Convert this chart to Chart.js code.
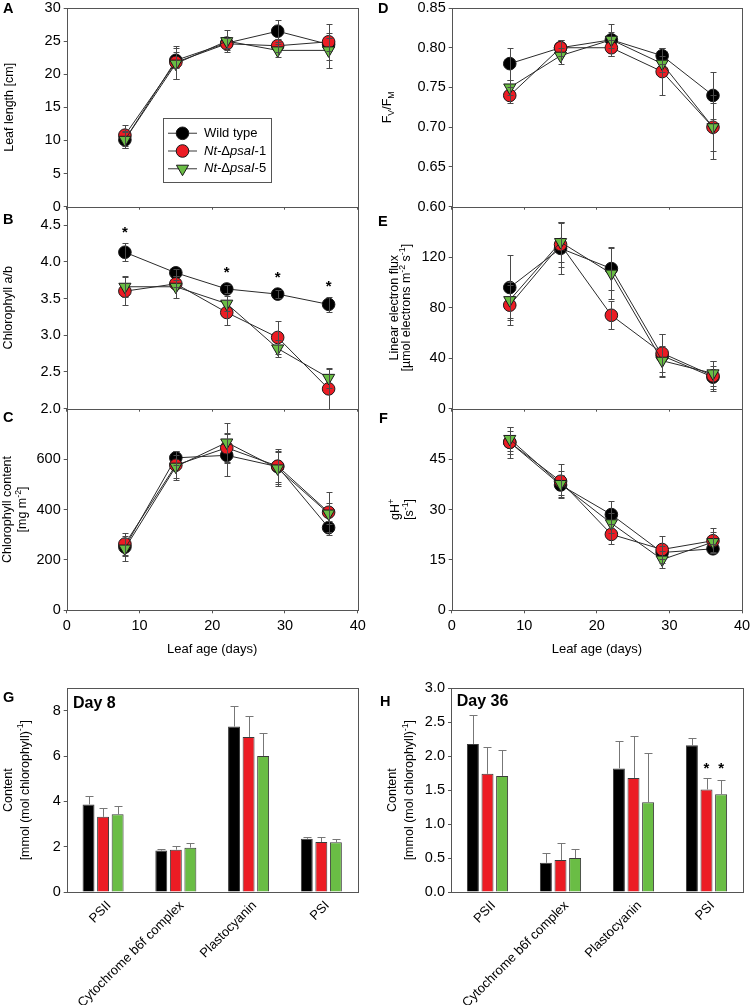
<!DOCTYPE html>
<html>
<head>
<meta charset="utf-8">
<script src="https://cdn.jsdelivr.net/npm/chart.js@4.4.1/dist/chart.umd.min.js"></script>
<style>
    html, body { margin: 0; padding: 0; background: #fff; }
    #fig { position: relative; width: 750px; height: 1005px; overflow: hidden; background: #fff; }
    #fig canvas { position: absolute; }
</style>
</head>
<body>
<div id="fig"></div>
<script>
const FONT = "'Liberation Sans', Arial, Helvetica, sans-serif";
const GRAY = "#555555";
const WT_COLOR = "#000000";
const L1_COLOR = "#ec1c24";
const L5_COLOR = "#6abd45";
const TICK_SIZE = 14.5;

// Leaf age (days)
const leafAge = [8, 15, 22, 29, 36];
const ageTicks = [0, 10, 20, 30, 40];

// A: leaf length [cm]
const lengthWT = [10.1, 22.1, 24.7, 26.5, 24.5];
const lengthWTErr = [1.2, 1.2, 0.8, 1.7, 1.0];
const lengthL1 = [10.8, 21.8, 24.6, 24.3, 24.9];
const lengthL1Err = [1.6, 2.5, 0.9, 1.0, 2.7];
const lengthL5 = [10.1, 21.6, 25.0, 23.6, 23.6];
const lengthL5Err = [1.3, 2.3, 1.7, 1.0, 2.6];
const lengthTicks = [0, 5, 10, 15, 20, 25, 30];

// B: chlorophyll a/b
const abWT = [4.13, 3.85, 3.63, 3.56, 3.42];
const abWTErr = [0.12, 0.05, 0.06, 0.05, 0.1];
const abL1 = [3.60, 3.70, 3.31, 2.97, 2.27];
const abL1Err = [0.19, 0.05, 0.17, 0.23, 0.27];
const abL5 = [3.66, 3.66, 3.43, 2.82, 2.42];
const abL5Err = [0.14, 0.15, 0.1, 0.12, 0.14];
const abStars = [4.43, null, 3.89, 3.82, 3.70];
const abTicks = [2.0, 2.5, 3.0, 3.5, 4.0, 4.5];

// C: chlorophyll content [mg m-2]
const chlWT = [251, 605, 615, 570, 328];
const chlWTErr = [35, 28, 83, 60, 28];
const chlL1 = [263, 576, 645, 572, 389];
const chlL1Err = [44, 57, 60, 70, 80];
const chlL5 = [245, 570, 666, 563, 384];
const chlL5Err = [49, 45, 79, 70, 40];
const chlTicks = [0, 200, 400, 600];

// D: Fv/Fm
const fvWT = [0.78, 0.80, 0.81, 0.79, 0.74];
const fvWTErr = [0.02, 0.01, 0.01, 0.01, 0.03];
const fvL1 = [0.74, 0.80, 0.80, 0.77, 0.70];
const fvL1Err = [0.01, 0.01, 0.01, 0.03, 0.04];
const fvL5 = [0.75, 0.79, 0.81, 0.78, 0.70];
const fvL5Err = [0.01, 0.01, 0.02, 0.01, 0.03];
const fvTicks = [0.60, 0.65, 0.70, 0.75, 0.80, 0.85];

// E: linear electron flux
const lefWT = [96, 127, 111, 42, 25];
const lefWTErr = [26, 20, 17, 17, 9];
const lefL1 = [82, 130, 74, 44, 26];
const lefL1Err = [16, 18, 11, 15, 12];
const lefL5 = [86, 132, 107, 38, 28];
const lefL5Err = [14, 16, 20, 12, 10];
const lefTicks = [0, 40, 80, 120];

// F: gH+
const ghWT = [50, 37.3, 28.5, 17.2, 18.3];
const ghWTErr = [3.5, 3, 4, 2, 1.3];
const ghL1 = [50, 38.4, 22.6, 18.1, 20.7];
const ghL1Err = [4.6, 5, 3, 4.1, 3.7];
const ghL5 = [51, 37.6, 25.9, 15.1, 20.3];
const ghL5Err = [3.5, 4, 3, 2.6, 3];
const ghTicks = [0, 15, 30, 45];

// G / H: complex content
const complexes = ["PSII", "Cytochrome b6f complex", "Plastocyanin", "PSI"];
const day8WT = [3.87, 1.83, 7.31, 2.35];
const day8WTErr = [0.35, 0.09, 0.93, 0.07];
const day8L1 = [3.32, 1.87, 6.85, 2.21];
const day8L1Err = [0.4, 0.17, 0.93, 0.2];
const day8L5 = [3.43, 1.96, 6.01, 2.2];
const day8L5Err = [0.35, 0.21, 1.0, 0.16];
const day8Ticks = [0, 2, 4, 6, 8];

const day36WT = [2.18, 0.43, 1.82, 2.16];
const day36WTErr = [0.43, 0.15, 0.40, 0.11];
const day36L1 = [1.74, 0.47, 1.68, 1.51];
const day36L1Err = [0.40, 0.25, 0.62, 0.17];
const day36L5 = [1.71, 0.50, 1.32, 1.44];
const day36L5Err = [0.38, 0.13, 0.73, 0.21];
const day36Stars = [null, null, null, 1.86];
const day36Ticks = [0, 0.5, 1.0, 1.5, 2.0, 2.5, 3.0];

Chart.defaults.font.family = FONT;
Chart.defaults.color = "#000";

const fig = document.getElementById("fig");

function addCanvas(rect) {
    const c = document.createElement("canvas");
    const w = rect.r - rect.l;
    const h = rect.b - rect.t;
    c.width = w;
    c.height = h;
    c.style.left = rect.l + "px";
    c.style.top = rect.t + "px";
    c.style.width = w + "px";
    c.style.height = h + "px";
    fig.appendChild(c);
    return c;
}

// small rich text helper (italics, sub/superscripts)
function segFont(s, size) {
    const sz = s.sub || s.sup ? size * 0.7 : size;
    return (s.it ? "italic " : "") + (s.b ? "bold " : "") + sz + "px " + FONT;
}
function richWidth(ctx, segs, size) {
    let w = 0;
    segs.forEach((s) => {
        ctx.font = segFont(s, size);
        w += ctx.measureText(s.t).width;
    });
    return w;
}
function drawRich(ctx, segs, x, y, size, center) {
    let cx = center ? x - richWidth(ctx, segs, size) / 2 : x;
    ctx.textBaseline = "middle";
    ctx.textAlign = "left";
    segs.forEach((s) => {
        ctx.font = segFont(s, size);
        const dy = s.sup ? -size * 0.38 : s.sub ? size * 0.3 : 0;
        ctx.fillText(s.t, cx, y + dy);
        cx += ctx.measureText(s.t).width;
    });
}

function drawMarker(ctx, style, color, x, y) {
    ctx.fillStyle = color;
    ctx.strokeStyle = "#1a1a1a";
    ctx.lineWidth = 1;
    ctx.beginPath();
    if (style === "circle") {
        ctx.arc(x, y, 6.3, 0, Math.PI * 2);
    } else {
        const r = 7;
        ctx.moveTo(x, y + r);
        ctx.lineTo(x - r * 0.866, y - r / 2);
        ctx.lineTo(x + r * 0.866, y - r / 2);
        ctx.closePath();
    }
    ctx.fill();
    ctx.stroke();
}

function makePlugin(cfg) {
    const dx = cfg.rect.l;
    const dy = cfg.rect.t;
    return {
        id: "panel",
        afterDatasetsDraw(chart) {
            const ctx = chart.ctx;
            const ys = chart.scales.y;
            ctx.save();
            chart.data.datasets.forEach((ds, di) => {
                if (!ds.errors) return;
                const meta = chart.getDatasetMeta(di);
                ctx.strokeStyle = cfg.errColor;
                ctx.lineWidth = 1;
                meta.data.forEach((el, i) => {
                    const e = ds.errors[i];
                    if (e == null) return;
                    const v = ds.values[i];
                    const px = Math.round(el.x) + 0.5;
                    const top = Math.round(ys.getPixelForValue(v + e)) + 0.5;
                    const bot = cfg.upOnly
                        ? ys.getPixelForValue(v)
                        : Math.round(ys.getPixelForValue(v - e)) + 0.5;
                    ctx.beginPath();
                    ctx.moveTo(px, top);
                    ctx.lineTo(px, bot);
                    ctx.moveTo(px - cfg.cap, top);
                    ctx.lineTo(px + cfg.cap, top);
                    if (!cfg.upOnly) {
                        ctx.moveTo(px - cfg.cap, bot);
                        ctx.lineTo(px + cfg.cap, bot);
                    }
                    ctx.stroke();
                });
            });
            // significance stars, glyph centred on the value
            chart.data.datasets.forEach((ds, di) => {
                if (!ds.stars) return;
                const meta = chart.getDatasetMeta(di);
                ctx.fillStyle = "#000";
                ctx.font = "bold 15px " + FONT;
                ctx.textAlign = "center";
                ctx.textBaseline = "alphabetic";
                const m = ctx.measureText("*");
                const shift = (m.actualBoundingBoxAscent - m.actualBoundingBoxDescent) / 2;
                meta.data.forEach((el, i) => {
                    const s = ds.stars[i];
                    if (s == null) return;
                    ctx.fillText("*", el.x, ys.getPixelForValue(s) + shift);
                });
            });
            ctx.restore();
        },
        afterDraw(chart) {
            const ctx = chart.ctx;
            const a = chart.chartArea;
            ctx.save();
            // frame
            ctx.strokeStyle = GRAY;
            ctx.lineWidth = 1;
            const l = Math.round(a.left) + 0.5;
            const t = Math.round(a.top) + 0.5;
            const r = Math.round(a.right) + 0.5;
            const b = Math.round(a.bottom) + 0.5;
            ctx.strokeRect(l, t, r - l, b - t);
            // y-axis titles
            ctx.fillStyle = "#000";
            const cy = (a.top + a.bottom) / 2;
            cfg.ytitle.forEach((line) => {
                ctx.save();
                ctx.translate(line.x - dx, cy);
                ctx.rotate(-Math.PI / 2);
                drawRich(ctx, line.segs, 0, 0, 12.5, true);
                ctx.restore();
            });
            // panel letter
            ctx.font = "bold 14.5px " + FONT;
            ctx.textAlign = "left";
            ctx.textBaseline = "middle";
            ctx.fillText(cfg.letter.t, cfg.letter.x - dx, cfg.letter.y - dy);
            if (cfg.note) {
                ctx.font = "bold 16px " + FONT;
                ctx.fillText(cfg.note.t, cfg.note.x - dx, cfg.note.y - dy);
            }
            if (cfg.legend) {
                const L = cfg.legend;
                ctx.fillStyle = "#fff";
                ctx.fillRect(L.l - dx, L.t - dy, L.w, L.h);
                ctx.strokeStyle = GRAY;
                ctx.strokeRect(L.l - dx + 0.5, L.t - dy + 0.5, L.w, L.h);
                chart.data.datasets
                    .slice()
                    .sort((p, q) => q.order - p.order)
                    .forEach((ds, i) => {
                        const ry = L.rows[i] - dy;
                        ctx.strokeStyle = "#666";
                        ctx.lineWidth = 1.3;
                        ctx.beginPath();
                        ctx.moveTo(L.line0 - dx, ry);
                        ctx.lineTo(L.line1 - dx, ry);
                        ctx.stroke();
                        drawMarker(ctx, ds.pointStyle, ds.pointBackgroundColor, (L.line0 + L.line1) / 2 - dx, ry);
                        ctx.fillStyle = "#000";
                        drawRich(ctx, ds.legendSegs, L.text - dx, ry, 13, false);
                    });
            }
            ctx.restore();
        },
    };
}

function lineSeries(label, segs, vals, errs, color, style, order, stars) {
    return {
        label,
        legendSegs: segs,
        values: vals,
        errors: errs,
        stars,
        data: leafAge.map((x, i) => ({ x, y: vals[i] })),
        borderColor: "#2a2a2a",
        borderWidth: 1,
        backgroundColor: color,
        pointStyle: style,
        pointRadius: style === "triangle" ? 7 : 6.3,
        pointRotation: style === "triangle" ? 180 : 0,
        pointBackgroundColor: color,
        pointBorderColor: "#1a1a1a",
        pointBorderWidth: 1,
        order,
        tension: 0,
        clip: false,
    };
}

const WT_SEGS = [{ t: "Wild type" }];
const L1_SEGS = [{ t: "Nt-", it: true }, { t: "\u0394" }, { t: "psaI", it: true }, { t: "-1" }];
const L5_SEGS = [{ t: "Nt-", it: true }, { t: "\u0394" }, { t: "psaI", it: true }, { t: "-5" }];

function yAxis(min, max, ticks, dec, cfg) {
    return {
        type: "linear",
        min,
        max,
        border: { display: false },
        grid: { drawOnChartArea: false, drawTicks: true, tickLength: 3, color: GRAY },
        ticks: {
            font: { size: TICK_SIZE },
            color: "#000",
            padding: 3,
            callback: (v) => Number(v).toFixed(dec),
        },
        afterBuildTicks: (s) => {
            s.ticks = ticks.map((v) => ({ value: v }));
        },
        afterFit: (s) => {
            s.width = cfg.area.l - cfg.rect.l;
            s.paddingTop = 0;
            s.paddingBottom = 0;
        },
    };
}

function ageAxis(cfg, showLabels) {
    return {
        type: "linear",
        min: 0,
        max: 40,
        border: { display: false },
        grid: { drawOnChartArea: false, drawTicks: true, tickLength: 3, color: GRAY },
        ticks: { display: showLabels, font: { size: TICK_SIZE }, color: "#000", padding: 4, maxRotation: 0 },
        title: {
            display: showLabels,
            text: "Leaf age (days)",
            font: { size: 13 },
            color: "#000",
            padding: { top: 4, bottom: 4 },
        },
        afterBuildTicks: (s) => {
            s.ticks = ageTicks.map((v) => ({ value: v }));
        },
        afterFit: (s) => {
            s.height = cfg.rect.b - cfg.area.b;
            s.paddingLeft = 0;
            s.paddingRight = 0;
        },
    };
}

function baseOptions(cfg) {
    return {
        responsive: false,
        animation: false,
        devicePixelRatio: 1,
        layout: {
            padding: {
                left: 0,
                top: cfg.area.t - cfg.rect.t,
                right: cfg.rect.r - cfg.area.r,
                bottom: 0,
            },
        },
        plugins: { legend: { display: false }, tooltip: { enabled: false } },
    };
}

function linePanel(cfg) {
    const opts = baseOptions(cfg);
    opts.scales = {
        x: ageAxis(cfg, cfg.xLabels),
        y: yAxis(cfg.y.min, cfg.y.max, cfg.y.ticks, cfg.y.dec, cfg),
    };
    cfg.errColor = "#4a4a4a";
    cfg.cap = 3;
    new Chart(addCanvas(cfg.rect), {
        type: "line",
        data: {
            datasets: [
                lineSeries("Wild type", WT_SEGS, cfg.s[0], cfg.s[1], WT_COLOR, "circle", 3, cfg.stars),
                lineSeries("Nt-dpsaI-1", L1_SEGS, cfg.s[2], cfg.s[3], L1_COLOR, "circle", 2),
                lineSeries("Nt-dpsaI-5", L5_SEGS, cfg.s[4], cfg.s[5], L5_COLOR, "triangle", 1),
            ],
        },
        options: opts,
        plugins: [makePlugin(cfg)],
    });
}

function barSeries(label, vals, errs, color, stars) {
    return {
        label,
        data: vals,
        values: vals,
        errors: errs,
        stars,
        backgroundColor: color,
        borderColor: "#3a3a3a",
        borderWidth: 1,
        barPercentage: 0.82,
        categoryPercentage: 0.6,
    };
}

function barPanel(cfg) {
    const opts = baseOptions(cfg);
    opts.scales = {
        x: {
            type: "category",
            border: { display: false },
            grid: { display: false, drawTicks: false },
            ticks: {
                font: { size: 13 },
                color: "#000",
                padding: 6,
                labelOffset: 6,
                minRotation: 45,
                maxRotation: 45,
                autoSkip: false,
            },
            afterFit: (s) => {
                s.height = cfg.rect.b - cfg.area.b;
                s.paddingLeft = 0;
                s.paddingRight = 0;
            },
        },
        y: yAxis(cfg.y.min, cfg.y.max, cfg.y.ticks, cfg.y.dec, cfg),
    };
    cfg.errColor = "#777777";
    cfg.cap = 4;
    cfg.upOnly = true;
    new Chart(addCanvas(cfg.rect), {
        type: "bar",
        data: {
            labels: complexes,
            datasets: [
                barSeries("Wild type", cfg.s[0], cfg.s[1], WT_COLOR),
                barSeries("Nt-dpsaI-1", cfg.s[2], cfg.s[3], L1_COLOR, cfg.stars),
                barSeries("Nt-dpsaI-5", cfg.s[4], cfg.s[5], L5_COLOR, cfg.stars),
            ],
        },
        options: opts,
        plugins: [makePlugin(cfg)],
    });
}

const LEFT_AREA = { l: 66.7, r: 357.7 };
const RIGHT_AREA = { l: 451.7, r: 743 };

linePanel({
    rect: { l: 0, t: 0, r: 375, b: 222 },
    area: { l: LEFT_AREA.l, r: LEFT_AREA.r, t: 5.4, b: 206.7 },
    y: { min: 0, max: 30, ticks: lengthTicks, dec: 0 },
    s: [lengthWT, lengthWTErr, lengthL1, lengthL1Err, lengthL5, lengthL5Err],
    xLabels: false,
    letter: { t: "A", x: 3, y: 9 },
    ytitle: [{ x: 10, segs: [{ t: "Leaf length [cm]" }] }],
    legend: { l: 163, t: 118, w: 108, h: 64, rows: [133.3, 151, 168.7], line0: 168, line1: 197, text: 204 },
});

linePanel({
    rect: { l: 0, t: 196, r: 375, b: 420 },
    area: { l: LEFT_AREA.l, r: LEFT_AREA.r, t: 206.7, b: 408.7 },
    y: { min: 2.0, max: 4.75, ticks: abTicks, dec: 1 },
    s: [abWT, abWTErr, abL1, abL1Err, abL5, abL5Err],
    stars: abStars,
    xLabels: false,
    letter: { t: "B", x: 3, y: 220 },
    ytitle: [{ x: 8.5, segs: [{ t: "Chlorophyll a/b" }] }],
});

linePanel({
    rect: { l: 0, t: 398, r: 375, b: 661 },
    area: { l: LEFT_AREA.l, r: LEFT_AREA.r, t: 408.7, b: 610.3 },
    y: { min: 0, max: 800, ticks: chlTicks, dec: 0 },
    s: [chlWT, chlWTErr, chlL1, chlL1Err, chlL5, chlL5Err],
    xLabels: true,
    letter: { t: "C", x: 3, y: 417.5 },
    ytitle: [
        { x: 7.5, segs: [{ t: "Chlorophyll content" }] },
        { x: 23, segs: [{ t: "[mg m" }, { t: "-2", sup: true }, { t: "]" }] },
    ],
});

linePanel({
    rect: { l: 375, t: 0, r: 750, b: 222 },
    area: { l: RIGHT_AREA.l, r: RIGHT_AREA.r, t: 5.4, b: 206.7 },
    y: { min: 0.6, max: 0.85, ticks: fvTicks, dec: 2 },
    s: [fvWT, fvWTErr, fvL1, fvL1Err, fvL5, fvL5Err],
    xLabels: false,
    letter: { t: "D", x: 378, y: 9 },
    ytitle: [{ x: 388, segs: [{ t: "F" }, { t: "V", sub: true }, { t: "/F" }, { t: "M", sub: true }] }],
});

linePanel({
    rect: { l: 375, t: 196, r: 750, b: 420 },
    area: { l: RIGHT_AREA.l, r: RIGHT_AREA.r, t: 206.7, b: 408.7 },
    y: { min: 0, max: 160, ticks: lefTicks, dec: 0 },
    s: [lefWT, lefWTErr, lefL1, lefL1Err, lefL5, lefL5Err],
    xLabels: false,
    letter: { t: "E", x: 378, y: 221.7 },
    ytitle: [
        { x: 394.3, segs: [{ t: "Linear electron flux" }] },
        { x: 407, segs: [{ t: "[\u00b5mol electrons m" }, { t: "-2", sup: true }, { t: " s" }, { t: "-1", sup: true }, { t: "]" }] },
    ],
});

linePanel({
    rect: { l: 375, t: 398, r: 750, b: 661 },
    area: { l: RIGHT_AREA.l, r: RIGHT_AREA.r, t: 408.7, b: 610.3 },
    y: { min: 0, max: 60, ticks: ghTicks, dec: 0 },
    s: [ghWT, ghWTErr, ghL1, ghL1Err, ghL5, ghL5Err],
    xLabels: true,
    letter: { t: "F", x: 379, y: 419 },
    ytitle: [
        { x: 396, segs: [{ t: "gH" }, { t: "+", sup: true }] },
        { x: 410, segs: [{ t: "[s" }, { t: "-1", sup: true }, { t: "]" }] },
    ],
});

barPanel({
    rect: { l: 0, t: 675, r: 375, b: 1005 },
    area: { l: 66.7, r: 357.7, t: 688.3, b: 892 },
    y: { min: 0, max: 9, ticks: day8Ticks, dec: 0 },
    s: [day8WT, day8WTErr, day8L1, day8L1Err, day8L5, day8L5Err],
    letter: { t: "G", x: 3, y: 697.5 },
    note: { t: "Day 8", x: 73, y: 704 },
    ytitle: [
        { x: 9, segs: [{ t: "Content" }] },
        { x: 25.7, segs: [{ t: "[mmol (mol chlorophyll)" }, { t: "-1", sup: true }, { t: "]" }] },
    ],
});

barPanel({
    rect: { l: 375, t: 675, r: 750, b: 1005 },
    area: { l: 451, r: 743, t: 688.3, b: 892 },
    y: { min: 0, max: 3, ticks: day36Ticks, dec: 1 },
    s: [day36WT, day36WTErr, day36L1, day36L1Err, day36L5, day36L5Err],
    stars: day36Stars,
    letter: { t: "H", x: 380, y: 701.5 },
    note: { t: "Day 36", x: 456.7, y: 702 },
    ytitle: [
        { x: 393, segs: [{ t: "Content" }] },
        { x: 410, segs: [{ t: "[mmol (mol chlorophyll)" }, { t: "-1", sup: true }, { t: "]" }] },
    ],
});
</script>
</body>
</html>
